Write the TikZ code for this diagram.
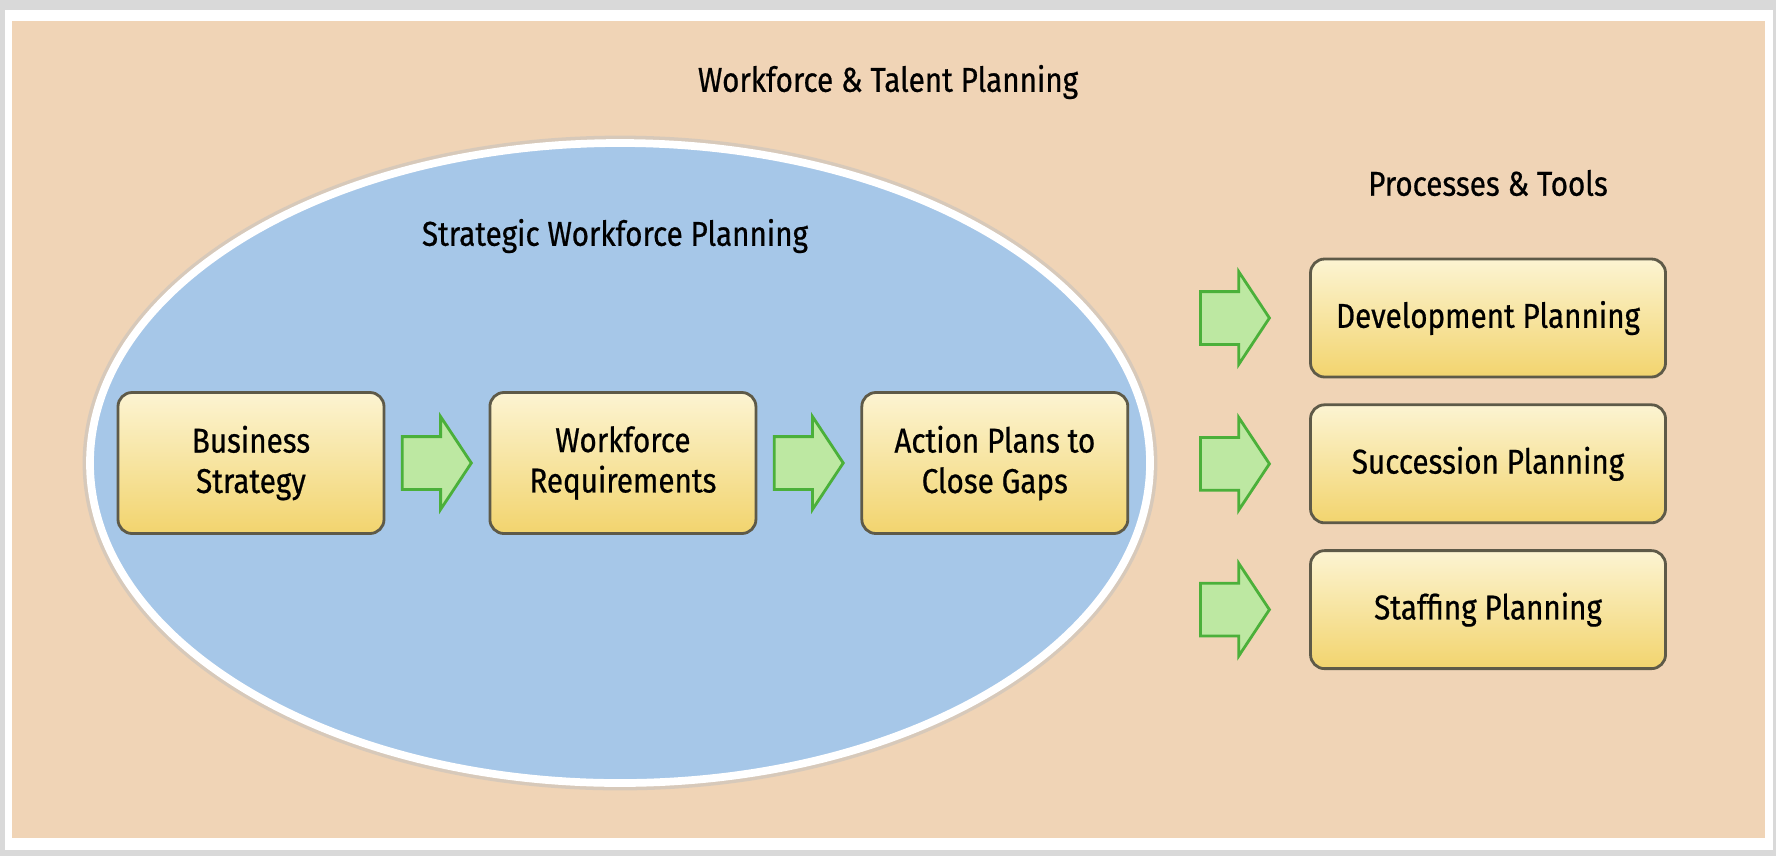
\documentclass[tikz,border=0pt]{standalone}
\usepackage{fontspec}
\setmainfont{Fira Sans}[FakeStretch=0.86,FakeBold=0.6]
\usetikzlibrary{positioning,shapes.arrows}
\definecolor{peach}{HTML}{F0D4B6}
\definecolor{skyblue}{HTML}{A6C7E8}
\definecolor{cream}{HTML}{FCF4D2}
\definecolor{gold}{HTML}{F2D46E}
\definecolor{leaf}{HTML}{BDE8A2}
\definecolor{leafline}{HTML}{4BB03A}
\definecolor{boxline}{HTML}{5E5A48}

\begin{document}
\begin{tikzpicture}[font=\fontsize{9.8}{11.5}\selectfont,
        box/.style={rectangle,rounded corners=4pt,draw=boxline,line width=0.8pt,
            top color=cream,bottom color=gold,align=center},
        stage/.style={box,minimum width=2.66cm,minimum height=1.41cm},
        tool/.style={box,minimum width=3.55cm,minimum height=1.18cm},
        blockarrow/.style={single arrow,draw=leafline,fill=leaf,line width=0.8pt,
            minimum height=0.69cm,text height=0.25cm,text depth=0.25cm,inner sep=0pt,
            single arrow head extend=0.2cm,single arrow tip angle=113},
        node distance=0.155cm]

  \useasboundingbox (0,0) rectangle (17.76,8.56);
  \fill[black!15] (0,0) rectangle (17.76,8.56);
  \fill[white] (0.05,0.06) rectangle (17.73,8.46);
  \fill[peach] (0.12,0.18) rectangle (17.65,8.35);

  \draw[black!25,line width=2.5pt,opacity=0.5] (6.20,3.93) ellipse [x radius=5.33, y radius=3.23];
  \draw[white,line width=2.2pt,fill=skyblue] (6.20,3.93) ellipse [x radius=5.30, y radius=3.20];

  \node (title) at (8.88,7.74) {Workforce \& Talent Planning};
  \node (swp) at (6.15,6.20) {Strategic Workforce Planning};
  \node (pt) at (14.88,6.73) {Processes \& Tools};

  \node[stage] (bs) at (2.51,3.93) {Business\\Strategy};
  \node[blockarrow] (a1) [right=of bs] {};
  \node[stage] (wr) [right=of a1] {Workforce\\Requirements};
  \node[blockarrow] (a2) [right=of wr] {};
  \node[stage] (ap) [right=of a2] {Action Plans to\\Close Gaps};

  \node[tool] (dev) at (14.88,5.38) {Development Planning};
  \node[tool] (succ) [below=0.25cm of dev] {Succession Planning};
  \node[tool] (staff) [below=0.25cm of succ] {Staffing Planning};

  \node[blockarrow] (d1) [left=0.38cm of dev] {};
  \node[blockarrow] (d2) [left=0.38cm of succ] {};
  \node[blockarrow] (d3) [left=0.38cm of staff] {};

\end{tikzpicture}
\end{document}
